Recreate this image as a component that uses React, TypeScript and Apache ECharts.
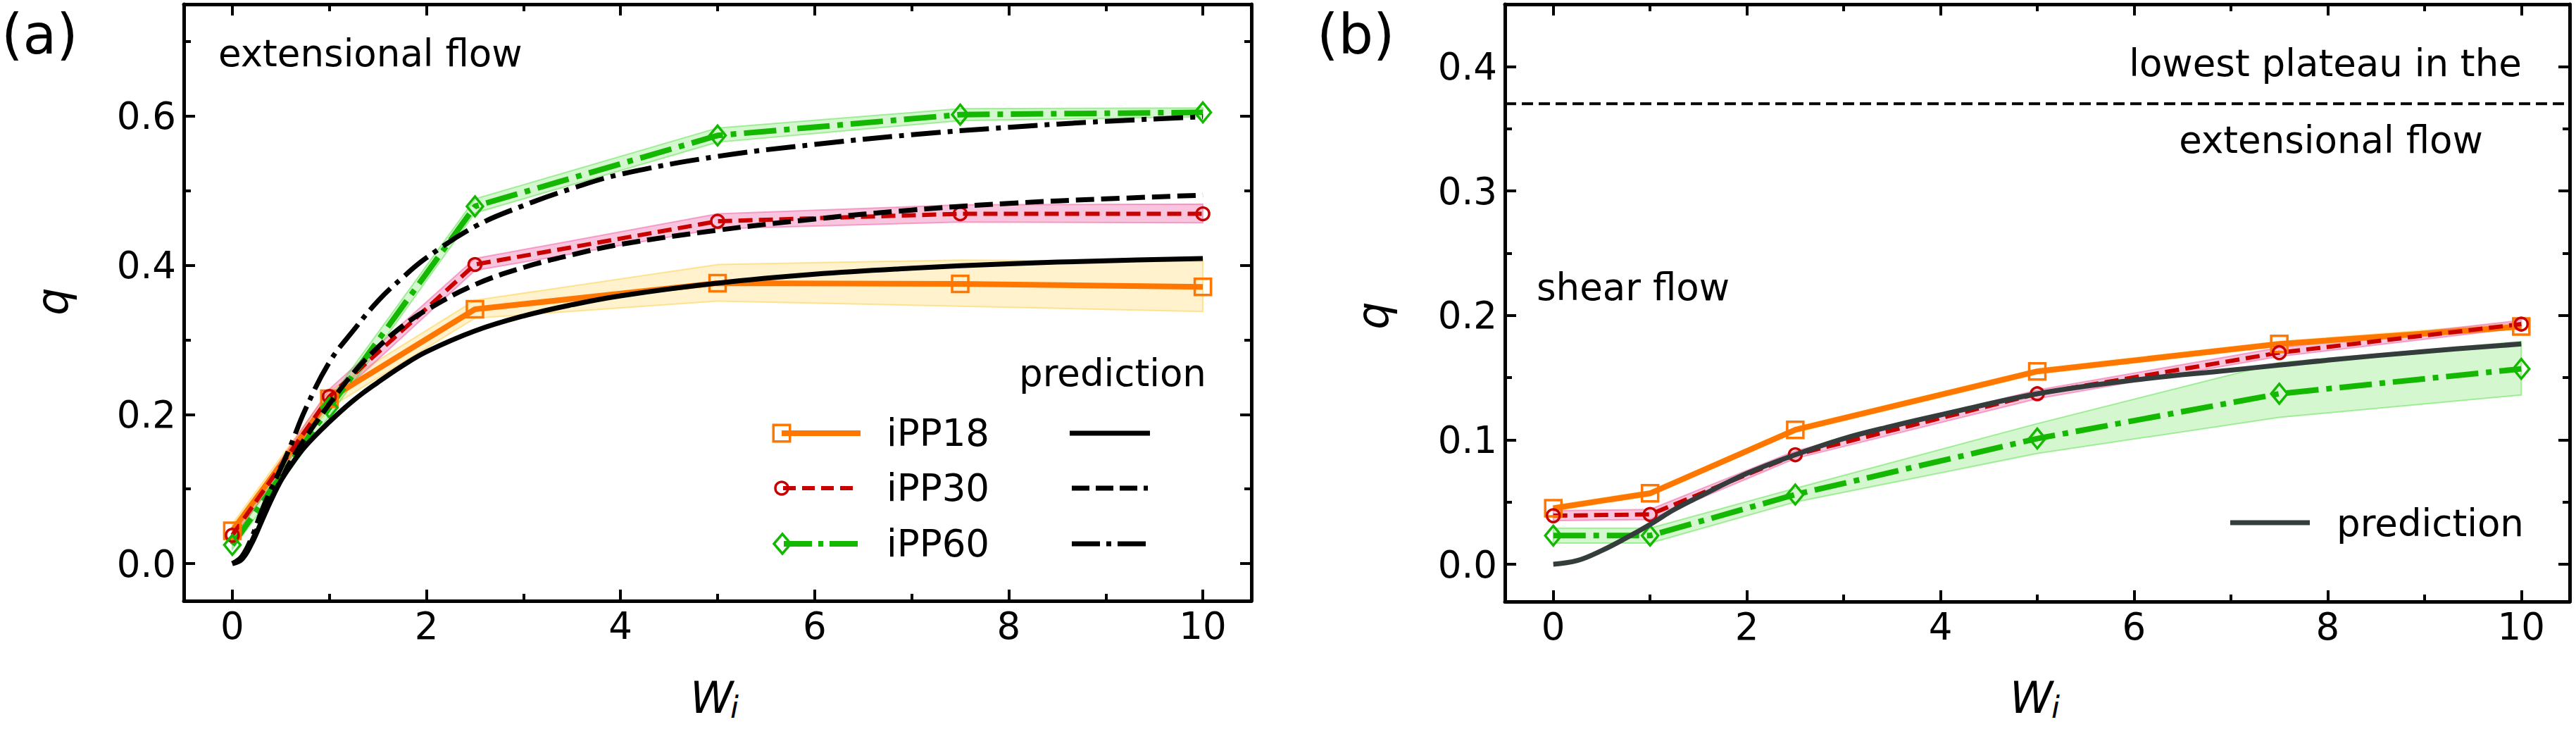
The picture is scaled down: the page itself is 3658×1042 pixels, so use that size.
import React, { useEffect, useRef } from "react";
import * as echarts from "echarts";

// Weissenberg numbers where the simulations were run
const wiPoints = [0, 1, 2.5, 5, 7.5, 10];

// (a) extensional flow: mean q and band limits
const extIPP18 = [0.044, 0.221, 0.341, 0.376, 0.375, 0.371];
const extIPP18Lo = [0.035, 0.209, 0.329, 0.352, 0.345, 0.338];
const extIPP18Hi = [0.053, 0.232, 0.353, 0.401, 0.407, 0.405];
const extIPP30 = [0.038, 0.224, 0.401, 0.459, 0.469, 0.469];
const extIPP30Lo = [0.032, 0.214, 0.393, 0.449, 0.458, 0.457];
const extIPP30Hi = [0.044, 0.234, 0.409, 0.469, 0.481, 0.482];
const extIPP60 = [0.025, 0.209, 0.479, 0.574, 0.602, 0.605];
const extIPP60Lo = [0.019, 0.198, 0.470, 0.565, 0.594, 0.599];
const extIPP60Hi = [0.031, 0.220, 0.489, 0.584, 0.610, 0.611];

// (a) model predictions
const extPredWi = [0, 0.1, 0.2, 0.3, 0.4, 0.5, 0.6, 0.75, 1, 1.25, 1.5, 1.75, 2, 2.5, 3, 3.5, 4, 5, 6, 7, 8, 9, 10];
const extPred18 = [0, 0.006, 0.027, 0.056, 0.085, 0.111, 0.131, 0.157, 0.19, 0.219, 0.243, 0.265, 0.284, 0.312, 0.332, 0.347, 0.359, 0.376, 0.388, 0.396, 0.402, 0.406, 0.409];
const extPred30 = [0, 0.008, 0.03, 0.06, 0.087, 0.112, 0.137, 0.168, 0.214, 0.256, 0.29, 0.318, 0.34, 0.374, 0.397, 0.414, 0.428, 0.447, 0.462, 0.474, 0.483, 0.489, 0.494];
const extPred60 = [0, 0.01, 0.035, 0.07, 0.1, 0.128, 0.158, 0.206, 0.27, 0.313, 0.352, 0.383, 0.41, 0.452, 0.48, 0.503, 0.522, 0.546, 0.562, 0.575, 0.585, 0.593, 0.599];

// (b) shear flow: mean q and band limits
const shearIPP18 = [0.045, 0.057, 0.108, 0.155, 0.177, 0.191];
const shearIPP18Lo = [0.043, 0.055, 0.106, 0.153, 0.175, 0.189];
const shearIPP18Hi = [0.047, 0.059, 0.110, 0.157, 0.179, 0.194];
const shearIPP30 = [0.039, 0.040, 0.088, 0.137, 0.170, 0.193];
const shearIPP30Lo = [0.035, 0.036, 0.085, 0.133, 0.167, 0.190];
const shearIPP30Hi = [0.043, 0.044, 0.091, 0.140, 0.174, 0.196];
const shearIPP60 = [0.023, 0.023, 0.056, 0.101, 0.137, 0.157];
const shearIPP60Lo = [0.017, 0.017, 0.050, 0.089, 0.118, 0.136];
const shearIPP60Hi = [0.029, 0.029, 0.061, 0.113, 0.162, 0.179];

// (b) model prediction
const shearPredWi = [0, 0.25, 0.5, 0.75, 1, 1.25, 1.5, 2, 2.5, 3, 3.5, 4, 5, 6, 7, 7.5, 8, 9, 10];
const shearPred = [0, 0.003, 0.011, 0.021, 0.032, 0.044, 0.054, 0.073, 0.088, 0.101, 0.111, 0.12, 0.137, 0.148, 0.156, 0.16, 0.164, 0.171, 0.177];

// lowest plateau reached in extensional flow
const plateauLevel = 0.37;

// ticks
const xMajorTicks = [0, 2, 4, 6, 8, 10];
const xMinorTicks = [1, 3, 5, 7, 9];
const extYMajor = [0, 0.2, 0.4, 0.6];
const extYMinor = [0.1, 0.3, 0.5, 0.7];
const shearYMajor = [0, 0.1, 0.2, 0.3, 0.4];
const shearYMinor = [0.05, 0.15, 0.25, 0.35];

const ORANGE = "#ff7700";
const RED = "#c80000";
const GREEN = "#14b800";
const GRAY = "#343c3c";
const FONT = "DejaVu Sans";

const DASH = [20, 9];
const DASH_BLACK = [26, 10];
const DASHDOT_GREEN = [46, 11, 8, 11];
const DASHDOT_BLACK = [42, 10, 7, 10];

type AxisOpts = {
  grid: number;
  dim: "x" | "y";
  min: number;
  max: number;
  major: number[];
  minor: number[];
  fmt: (v: number) => string;
};

function buildAxes(o: AxisOpts) {
  const sides = o.dim === "x" ? ["bottom", "top"] : ["left", "right"];
  const out: any[] = [];
  sides.forEach((side, si) => {
    [true, false].forEach((isMajor) => {
      out.push({
        type: "value",
        gridIndex: o.grid,
        position: side,
        min: o.min,
        max: o.max,
        splitLine: { show: false },
        axisLine: {
          show: isMajor,
          onZero: false,
          lineStyle: { color: "#000", width: 5 },
        },
        axisTick: {
          show: true,
          inside: true,
          length: isMajor ? 16 : 10,
          customValues: isMajor ? o.major : o.minor,
          lineStyle: { color: "#000", width: 4 },
        },
        axisLabel: {
          show: isMajor && si === 0,
          customValues: o.major,
          formatter: o.fmt,
          fontSize: 53,
          fontFamily: FONT,
          color: "#000",
          margin: o.dim === "x" ? 9 : 11,
        },
      });
    });
  });
  return out;
}

function bandSeries(xs: number[], lo: number[], hi: number[], fill: string, stroke: string, axis: number) {
  return {
    type: "custom",
    xAxisIndex: axis,
    yAxisIndex: axis,
    silent: true,
    z: 1,
    data: xs.map((x, i) => [x, lo[i], hi[i]]),
    encode: { x: 0, y: [1, 2] },
    renderItem: (params: any, api: any) => {
      if (params.dataIndex !== 0) return null;
      const top = xs.map((x, i) => api.coord([x, hi[i]]));
      const bottom = xs.map((x, i) => api.coord([x, lo[i]])).reverse();
      return {
        type: "polygon",
        shape: { points: top.concat(bottom) },
        style: { fill, stroke, lineWidth: 2 },
      };
    },
  };
}

function dataSeries(
  name: string,
  xs: number[],
  ys: number[],
  color: string,
  width: number,
  dash: any,
  symbol: string,
  size: any,
  axis: number
) {
  return {
    name,
    type: "line",
    xAxisIndex: axis,
    yAxisIndex: axis,
    silent: true,
    z: 3,
    data: xs.map((x, i) => [x, ys[i]]),
    showSymbol: true,
    symbol,
    symbolSize: size,
    itemStyle: { color: "rgba(255,255,255,0)", borderColor: color, borderWidth: 3.5 },
    lineStyle: { color, width, type: dash },
    emphasis: { disabled: true },
  };
}

function curveSeries(name: string, xs: number[], ys: number[], color: string, width: number, dash: any, axis: number) {
  return {
    name,
    type: "line",
    xAxisIndex: axis,
    yAxisIndex: axis,
    silent: true,
    z: 4,
    data: xs.map((x, i) => [x, ys[i]]),
    showSymbol: false,
    symbol: "none",
    smooth: 0.4,
    lineStyle: { color, width, type: dash },
    emphasis: { disabled: true },
  };
}

function txt(text: string, x: number, y: number, extra: any = {}, styleExtra: any = {}) {
  return {
    type: "text",
    x,
    y,
    z: 10,
    silent: true,
    ...extra,
    style: {
      text,
      fill: "#000",
      fontSize: 53,
      fontFamily: FONT,
      align: "left",
      verticalAlign: "middle",
      ...styleExtra,
    },
  };
}

function hline(x1: number, x2: number, y: number, color: string, width: number, dash?: number[]) {
  return {
    type: "line",
    z: 10,
    silent: true,
    shape: { x1, y1: y, x2, y2: y },
    style: { stroke: color, lineWidth: width, lineDash: dash || null },
  };
}

const YELLOW_FILL = "rgba(255,200,40,0.23)";
const YELLOW_EDGE = "rgba(255,200,40,0.45)";
const PINK_FILL = "rgba(238,90,160,0.35)";
const PINK_EDGE = "rgba(238,90,160,0.5)";
const GREEN_FILL = "rgba(60,220,40,0.22)";
const GREEN_EDGE = "rgba(60,220,40,0.42)";

export default function App() {
  const ref = useRef<HTMLDivElement>(null);

  useEffect(() => {
    if (!ref.current) return;
    const chart = echarts.init(ref.current, null, { renderer: "svg" });

    const fmtX = (v: number) => String(v);
    const fmtY = (v: number) => v.toFixed(1);

    const xAxes = [
      ...buildAxes({ grid: 0, dim: "x", min: -0.5, max: 10.5, major: xMajorTicks, minor: xMinorTicks, fmt: fmtX }),
      ...buildAxes({ grid: 1, dim: "x", min: -0.5, max: 10.5, major: xMajorTicks, minor: xMinorTicks, fmt: fmtX }),
    ];
    const yAxes = [
      ...buildAxes({ grid: 0, dim: "y", min: -0.05, max: 0.75, major: extYMajor, minor: extYMinor, fmt: fmtY }),
      ...buildAxes({ grid: 1, dim: "y", min: -0.03, max: 0.45, major: shearYMajor, minor: shearYMinor, fmt: fmtY }),
    ];

    const A = 0;
    const B = 4;

    const series: any[] = [
      // (a) bands
      bandSeries(wiPoints, extIPP18Lo, extIPP18Hi, YELLOW_FILL, YELLOW_EDGE, A),
      bandSeries(wiPoints, extIPP30Lo, extIPP30Hi, PINK_FILL, PINK_EDGE, A),
      bandSeries(wiPoints, extIPP60Lo, extIPP60Hi, GREEN_FILL, GREEN_EDGE, A),
      // (a) measurements
      dataSeries("iPP18", wiPoints, extIPP18, ORANGE, 8, "solid", "rect", 23, A),
      dataSeries("iPP30", wiPoints, extIPP30, RED, 6, DASH, "circle", 18, A),
      dataSeries("iPP60", wiPoints, extIPP60, GREEN, 8, DASHDOT_GREEN, "diamond", [23, 28], A),
      // (a) predictions
      curveSeries("prediction iPP18", extPredWi, extPred18, "#000", 7, "solid", A),
      curveSeries("prediction iPP30", extPredWi, extPred30, "#000", 7, DASH_BLACK, A),
      curveSeries("prediction iPP60", extPredWi, extPred60, "#000", 7, DASHDOT_BLACK, A),

      // (b) bands
      bandSeries(wiPoints, shearIPP18Lo, shearIPP18Hi, YELLOW_FILL, YELLOW_EDGE, B),
      bandSeries(wiPoints, shearIPP30Lo, shearIPP30Hi, PINK_FILL, PINK_EDGE, B),
      bandSeries(wiPoints, shearIPP60Lo, shearIPP60Hi, GREEN_FILL, GREEN_EDGE, B),
      // (b) prediction
      curveSeries("prediction", shearPredWi, shearPred, GRAY, 7, "solid", B),
      // (b) measurements
      dataSeries("iPP18 shear", wiPoints, shearIPP18, ORANGE, 8, "solid", "rect", 23, B),
      dataSeries("iPP30 shear", wiPoints, shearIPP30, RED, 6, DASH, "circle", 18, B),
      dataSeries("iPP60 shear", wiPoints, shearIPP60, GREEN, 8, DASHDOT_GREEN, "diamond", [23, 28], B),
      // (b) plateau from extensional flow
      {
        name: "plateau",
        type: "line",
        xAxisIndex: B,
        yAxisIndex: B,
        silent: true,
        z: 2,
        data: [
          [-0.5, plateauLevel],
          [10.5, plateauLevel],
        ],
        showSymbol: false,
        symbol: "none",
        lineStyle: { color: "#000", width: 4, type: [16, 8] },
      },
    ];

    const graphics: any[] = [
      // panel tags
      txt("(a)", 2, 49, {}, { fontSize: 78 }),
      txt("(b)", 1870, 49, {}, { fontSize: 78 }),
      // annotations
      txt("extensional flow", 310, 75),
      txt("shear flow", 2182, 407),
      txt("lowest plateau in the", 3302, 89, {}, { align: "center" }),
      txt("extensional flow", 3310, 198, {}, { align: "center" }),
      // axis titles
      txt("q", 74, 428, { rotation: Math.PI / 2 }, { fontSize: 62, fontStyle: "italic", align: "center" }),
      txt("q", 1949, 448, { rotation: Math.PI / 2 }, { fontSize: 62, fontStyle: "italic", align: "center" }),
      txt("W", 980, 990, {}, { fontSize: 62, fontStyle: "italic" }),
      txt("i", 1037, 1004, {}, { fontSize: 43, fontStyle: "italic" }),
      txt("W", 2854, 990, {}, { fontSize: 62, fontStyle: "italic" }),
      txt("i", 2913, 1004, {}, { fontSize: 43, fontStyle: "italic" }),

      // legend (a)
      txt("prediction", 1580, 529, {}, { align: "center" }),
      hline(1110, 1222, 615, ORANGE, 8),
      {
        type: "rect",
        z: 11,
        silent: true,
        shape: { x: 1110 - 11.75, y: 615 - 11.75, width: 23.5, height: 23.5 },
        style: { fill: "none", stroke: ORANGE, lineWidth: 3.5 },
      },
      txt("iPP18", 1259, 614),
      hline(1112, 1219, 693, RED, 6, [18, 9]),
      {
        type: "circle",
        z: 11,
        silent: true,
        shape: { cx: 1110, cy: 693, r: 9 },
        style: { fill: "none", stroke: RED, lineWidth: 3.5 },
      },
      txt("iPP30", 1259, 692),
      hline(1113, 1220, 772, GREEN, 8, [40, 9, 7, 9]),
      {
        type: "polygon",
        z: 11,
        silent: true,
        shape: {
          points: [
            [1099, 772],
            [1111, 758],
            [1123, 772],
            [1111, 786],
          ],
        },
        style: { fill: "none", stroke: GREEN, lineWidth: 3.5 },
      },
      txt("iPP60", 1259, 771),
      hline(1519, 1633, 615, "#000", 7),
      hline(1522, 1630, 693, "#000", 7, [25, 9]),
      hline(1522, 1630, 772, "#000", 7, [40, 9, 7, 9]),

      // legend (b)
      hline(3167, 3280, 742, GRAY, 7),
      txt("prediction", 3318, 742),
    ];

    chart.setOption({
      animation: false,
      backgroundColor: "#fff",
      textStyle: { fontFamily: FONT },
      grid: [
        { left: 261, top: 6, width: 1516, height: 847 },
        { left: 2137, top: 6, width: 1512, height: 848 },
      ],
      xAxis: xAxes,
      yAxis: yAxes,
      series,
      graphic: { elements: graphics },
    });

    return () => chart.dispose();
  }, []);

  return (
    <div
      ref={ref}
      style={{ position: "absolute", left: 0, top: 0, width: 3658, height: 1042, background: "#fff" }}
    />
  );
}
